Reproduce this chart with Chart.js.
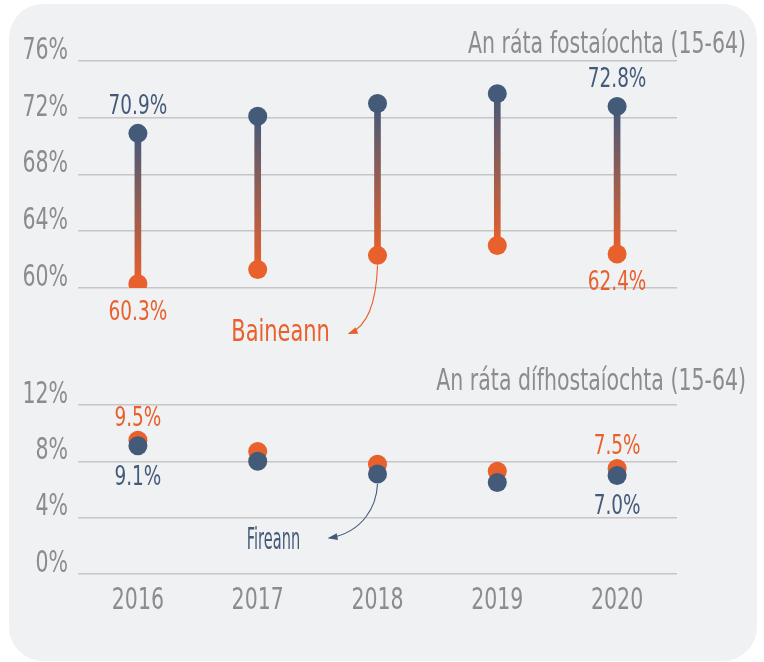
<!DOCTYPE html>
<html><head><meta charset="utf-8">
<script src="https://cdn.jsdelivr.net/npm/chart.js@4.4.1/dist/chart.umd.min.js"></script>
<style>
html,body{margin:0;padding:0;background:#fff;width:764px;height:662px;overflow:hidden}
#panel{position:absolute;left:9px;top:4px;width:748px;height:657px;border-radius:34px;background:#f0f1f3}
canvas{position:absolute;left:0;top:0}
</style></head><body>
<div id="panel"></div>
<canvas id="c1" width="764" height="662"></canvas>
<canvas id="c2" width="764" height="662"></canvas>
<script>
const years = ['2016','2017','2018','2019','2020'];
const empMale = [70.9, 72.1, 73.0, 73.7, 72.8];
const empFemale = [60.3, 61.3, 62.3, 63.0, 62.4];
const unempMale = [9.1, 8.0, 7.1, 6.5, 7.0];
const unempFemale = [9.5, 8.7, 7.8, 7.3, 7.5];
const labelledIdx = [0, 4];
const empTitle = 'An ráta fostaíochta (15-64)';
const unempTitle = 'An ráta dífhostaíochta (15-64)';
const femaleName = 'Baineann';
const maleName = 'Fireann';

const BLUE = '#435a79';
const ORANGE = '#e8602c';
const GREY = '#8d8c8c';
const GRID = '#c6c6c8';
const FONT = "'Liberation Sans Narrow','DejaVu Sans Condensed','Roboto Condensed',sans-serif";
const SQUEEZE = 0.76;
const pct = v => v + '%';
const fmt = v => v.toFixed(1) + '%';

// draw the library's own tick labels with a narrower horizontal scale
function condenseScale(scale, s) {
  if (scale._condensed) return;
  scale._condensed = true;
  const orig = scale.drawLabels;
  scale._computeLabelArea = () => undefined;
  scale.drawLabels = function (ca) {
    const items = this.getLabelItems(ca);
    const saved = items.map(it => it.options.translation[0]);
    items.forEach(it => { it.options.translation[0] = it.options.translation[0] / s; });
    this.ctx.save();
    this.ctx.scale(s, 1);
    orig.call(this, ca);
    this.ctx.restore();
    items.forEach((it, k) => { it.options.translation[0] = saved[k]; });
  };
}

function yAxis(min, max) {
  return {
    min, max,
    ticks: {stepSize: 4, callback: pct, color: GREY, font: {family: FONT, size: 30}, padding: 10, labelOffset: -10},
    grid: {color: GRID, lineWidth: 1.6, drawTicks: false},
    border: {display: false},
    afterFit: s => { s.width = 78; condenseScale(s, SQUEEZE); }
  };
}

function drawArrow(ctx, p0, c1, c2, p1, color) {
  ctx.save();
  ctx.strokeStyle = color; ctx.fillStyle = color; ctx.lineWidth = 1.1;
  ctx.beginPath(); ctx.moveTo(p0[0], p0[1]);
  ctx.bezierCurveTo(c1[0], c1[1], c2[0], c2[1], p1[0], p1[1]);
  ctx.stroke();
  const a = Math.atan2(p1[1] - c2[1], p1[0] - c2[0]);
  const L = 8, W = 3.5;
  ctx.beginPath();
  ctx.moveTo(p1[0] + Math.cos(a) * 2, p1[1] + Math.sin(a) * 2);
  ctx.lineTo(p1[0] - Math.cos(a) * L - Math.sin(a) * W, p1[1] - Math.sin(a) * L + Math.cos(a) * W);
  ctx.lineTo(p1[0] - Math.cos(a) * L + Math.sin(a) * W, p1[1] - Math.sin(a) * L - Math.cos(a) * W);
  ctx.closePath(); ctx.fill();
  ctx.restore();
}

function text(ctx, s, x, y, color, size, align, sx) {
  ctx.save();
  ctx.translate(x, y);
  ctx.scale(sx || SQUEEZE, 1);
  ctx.font = size + 'px ' + FONT;
  ctx.fillStyle = color; ctx.textAlign = align || 'center'; ctx.textBaseline = 'alphabetic';
  ctx.fillText(s, 0, 0);
  ctx.restore();
}

const topPlugin = {
  id: 'topDecor',
  afterDatasetsDraw(chart) {
    const ctx = chart.ctx, x = chart.scales.x, y = chart.scales.y, ca = chart.chartArea;
    text(ctx, empTitle, chart.width - 18, ca.top - 8, GREY, 30, 'right');
    labelledIdx.forEach(i => {
      const px = x.getPixelForValue(i);
      text(ctx, fmt(empMale[i]), px, y.getPixelForValue(empMale[i]) - 19, BLUE, 27);
      text(ctx, fmt(empFemale[i]), px, y.getPixelForValue(empFemale[i]) + 36, ORANGE, 27);
    });
    const ax = x.getPixelForValue(2), ay = y.getPixelForValue(empFemale[2]) + 10;
    drawArrow(ctx, [ax, ay], [ax - 1, ay + 32], [ax - 8, ay + 60], [ax - 28, ay + 68], ORANGE);
    text(ctx, femaleName, ax - 97, ay + 76, ORANGE, 31, 'center', 0.75);
  }
};

const bottomPlugin = {
  id: 'bottomDecor',
  afterDatasetsDraw(chart) {
    const ctx = chart.ctx, x = chart.scales.x, y = chart.scales.y, ca = chart.chartArea;
    text(ctx, unempTitle, chart.width - 18, ca.top - 15, GREY, 30, 'right');
    labelledIdx.forEach(i => {
      const px = x.getPixelForValue(i);
      text(ctx, fmt(unempFemale[i]), px, y.getPixelForValue(unempFemale[i]) - 14, ORANGE, 27);
      text(ctx, fmt(unempMale[i]), px, y.getPixelForValue(unempMale[i]) + 39, BLUE, 27);
    });
    const ax = x.getPixelForValue(2), ay = y.getPixelForValue(unempMale[2]) + 10;
    text(ctx, maleName, ax - 104, ay + 65, BLUE, 30, 'center', 0.54);
    drawArrow(ctx, [ax, ay], [ax - 1, ay + 22], [ax - 14, ay + 48], [ax - 48, ay + 54], BLUE);
  }
};

const common = {
  responsive: false,
  animation: false,
  events: [],
  devicePixelRatio: 1,
  plugins: {legend: {display: false}, tooltip: {enabled: false}}
};

function barGradient(c) {
  const ch = c.chart, ys = ch.scales && ch.scales.y;
  const i = c.dataIndex;
  if (!ys || i === undefined || i === null) return BLUE;
  const t = ys.getPixelForValue(empMale[i]);
  const b = ys.getPixelForValue(empFemale[i]);
  if (!isFinite(t) || !isFinite(b) || t === b) return BLUE;
  const g = ch.ctx.createLinearGradient(0, t, 0, b);
  g.addColorStop(0, BLUE); g.addColorStop(1, ORANGE);
  return g;
}

new Chart(document.getElementById('c1'), {
  type: 'bar',
  data: {
    labels: years,
    datasets: [
      {
        type: 'bar',
        data: years.map((_, i) => [empFemale[i], empMale[i]]),
        barThickness: 6,
        order: 3,
        backgroundColor: barGradient
      },
      {type: 'line', data: empFemale, showLine: false, pointRadius: 9.5, pointBorderWidth: 0, pointBackgroundColor: ORANGE, order: 2},
      {type: 'line', data: empMale, showLine: false, pointRadius: 9.5, pointBorderWidth: 0, pointBackgroundColor: BLUE, order: 1}
    ]
  },
  options: Object.assign({}, common, {
    layout: {padding: {left: 0, right: 87, top: 61, bottom: 374}},
    scales: {
      x: {display: false, offset: true},
      y: yAxis(60, 76)
    }
  }),
  plugins: [topPlugin]
});

new Chart(document.getElementById('c2'), {
  type: 'line',
  data: {
    labels: years,
    datasets: [
      {data: unempFemale, showLine: false, pointRadius: 9.5, pointBorderWidth: 0, pointBackgroundColor: ORANGE, order: 2},
      {data: unempMale, showLine: false, pointRadius: 9.5, pointBorderWidth: 0, pointBackgroundColor: BLUE, order: 1}
    ]
  },
  options: Object.assign({}, common, {
    layout: {padding: {left: 0, right: 87, top: 405, bottom: 0}},
    scales: {
      x: {
        offset: true,
        grid: {display: false, drawTicks: false},
        border: {display: false},
        ticks: {color: GREY, font: {family: FONT, size: 30}, padding: 9},
        afterFit: s => { s.height = 88; condenseScale(s, SQUEEZE); }
      },
      y: yAxis(0, 12)
    }
  }),
  plugins: [bottomPlugin]
});
</script>
</body></html>
